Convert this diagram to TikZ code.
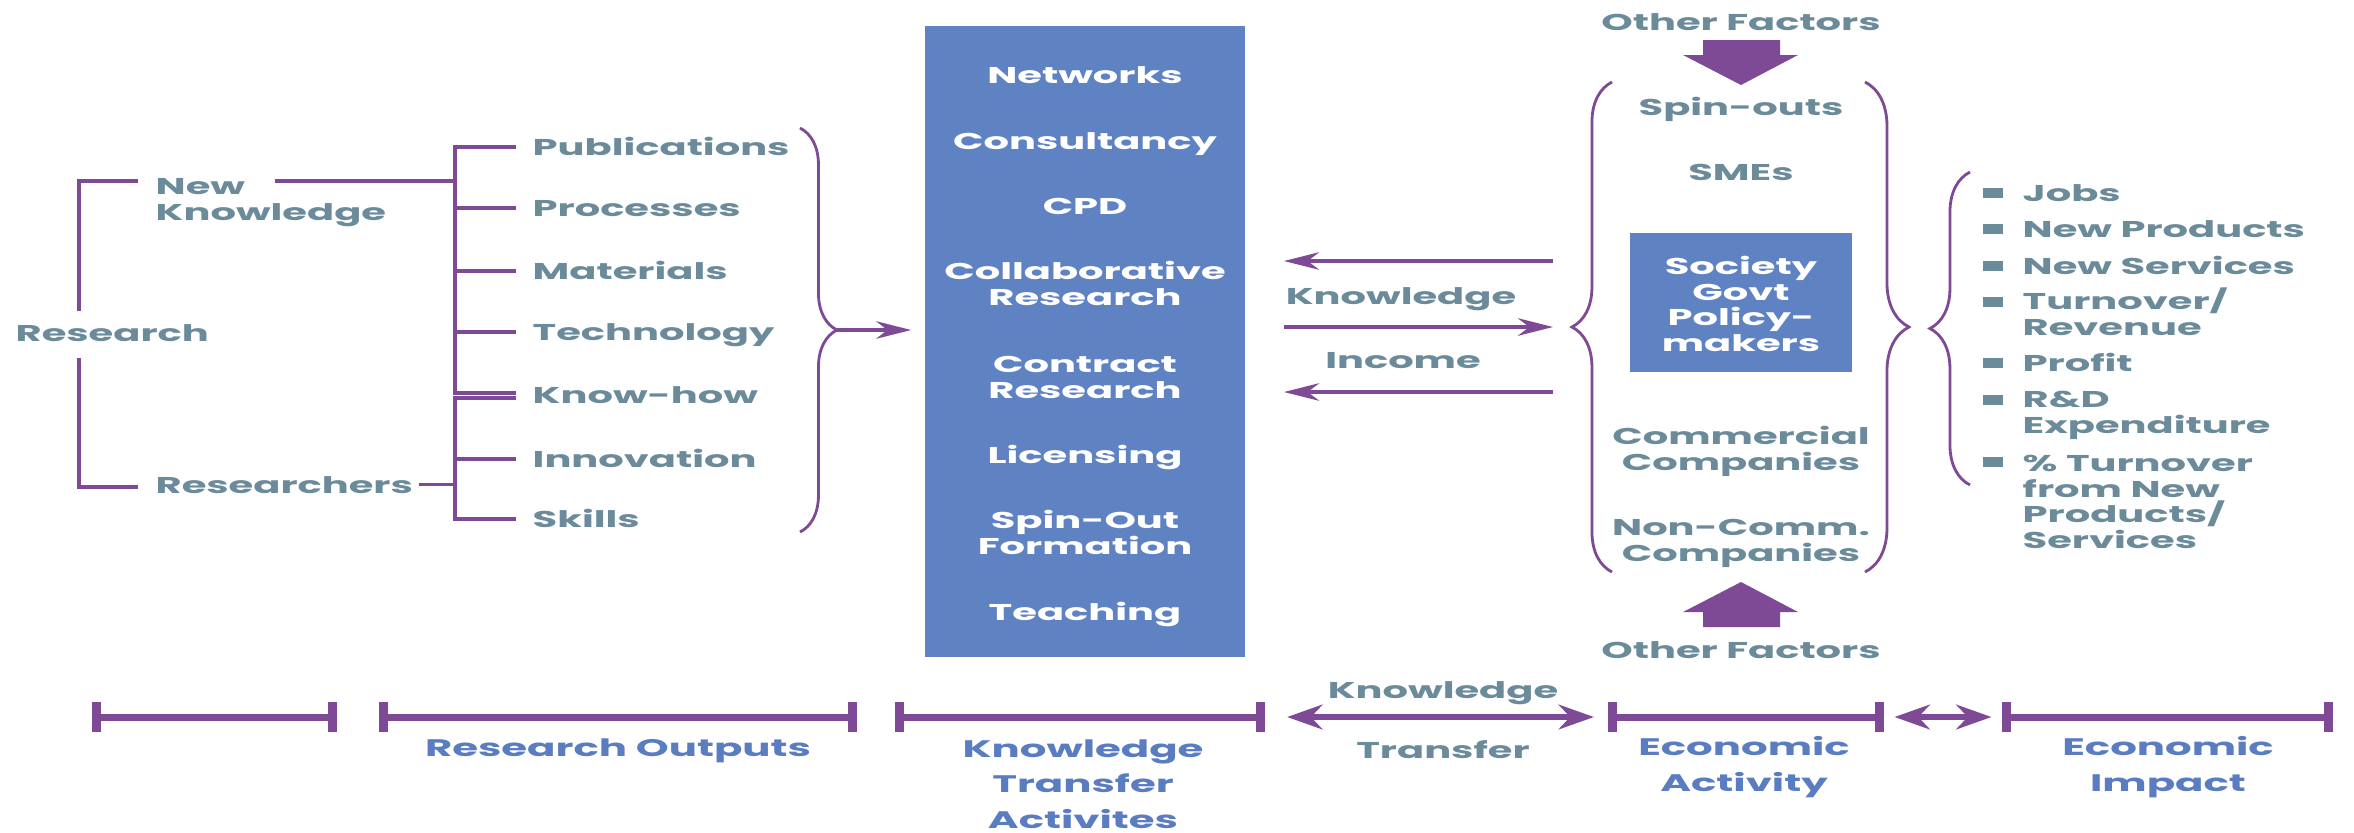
\documentclass[tikz,border=0pt]{standalone}
\usepackage{fontspec}
\setmainfont{Poppins}[FakeStretch=1.75]
\usetikzlibrary{arrows.meta,decorations.pathreplacing}
\definecolor{kpurple}{RGB}{126,74,149}
\definecolor{kgray}{RGB}{107,139,155}
\definecolor{kblue}{RGB}{95,130,195}
\definecolor{lblue}{RGB}{90,124,192}

\begin{document}
\begin{tikzpicture}
	[x=0.01cm,y=-0.01cm,
	every node/.style={inner sep=0pt,text=kgray,font=\bfseries\fontsize{6.5}{7.25}\selectfont},
	tree/.style={draw=kpurple,line width=1.3pt},
	twig/.style={draw=kpurple,line width=1pt},
	flow/.style={draw=kpurple,line width=0.9pt,-{Stealth[length=10pt,width=5pt]}},
	brc/.style={draw=kpurple,line width=0.8pt,decorate,decoration={brace,amplitude=#1}},
	kbox/.style={fill=kblue,minimum width=3.2cm,minimum height=6.31cm},
	wt/.style={text=white,align=center,anchor=base},
	seg/.style={draw=kpurple,line width=2pt,{Bar[width=8.5pt,line width=2.6pt]}-{Bar[width=8.5pt,line width=2.6pt]}},
	tl/.style={draw=kpurple,line width=1.8pt,{Stealth[length=10pt,width=7pt]}-{Stealth[length=10pt,width=7pt]}},
	stage/.style={text=lblue,align=center,anchor=base,font=\bfseries\fontsize{6.8}{10}\selectfont}]

	\useasboundingbox (0,0) rectangle (2354,832);

	\node[anchor=base west] (rs) at (15,341) {Research};
	\node[anchor=base west,align=left] (nk) at (155,220) {New\\Knowledge};
	\node[anchor=base west] (rr) at (155,493) {Researchers};
	\coordinate (lt) at (79,181);
	\coordinate (lb) at (79,487);
	\coordinate (nkr) at (275,181);
	\draw[tree] ([yshift=3.5pt]rs.north -| lt) -- (lt) -- ([xshift=-4.8pt]nk.west |- lt);
	\draw[tree] ([yshift=-4.5pt]rs.south -| lb) -- (lb) -- ([xshift=-4.8pt]rr.west |- lb);

	\foreach \t/\y [count=\i] in {Publications/147,Processes/208,Materials/271,Technology/332,Know-how/395,Innovation/459,Skills/519} {
		\coordinate (b\i) at (455,\y);
		\node[anchor=base west] (o\i) at (532,\y+8) {\t};
	}
	\coordinate (bu) at (455,393);
	\coordinate (bl) at (455,398);
	\draw[tree] ([xshift=-4.5pt]o1.west |- b1) -- (b1) -- (bu) -- ([xshift=-4.5pt]o5.west |- bu);
	\draw[tree] ([xshift=-4.5pt]o5.west |- bl) -- (bl) -- (b7) -- ([xshift=-4.5pt]o7.west |- b7);
	\foreach \i in {2,3,4,6}
		\draw[twig] (b\i) -- ([xshift=-4.5pt]o\i.west |- b\i);
	\draw[tree] (nkr) -- (nkr -| b1);
	\draw[twig] ([xshift=1.5pt]rr.east) -- (rr.east -| b1);

	\draw[brc=10.5pt] (800,128) -- (800,532);
	\coordinate (otip) at (837,330);
	\node[kbox] (kta) at (1085,341.5) {};
	\draw[flow,shorten >=3.7pt] (otip) -- (kta.west |- otip);
	\foreach \t/\y [count=\i] in {Networks/83,Consultancy/149,CPD/214,Collaborative\\Research/305,Contract\\Research/398,Licensing/463,Spin-Out\\Formation/554,Teaching/620}
		\node[wt] (a\i) at (1085,\y) {\t};

	\foreach \n/\y in {kt/261,km/327,kb/392} {
		\coordinate (\n1) at (1284,\y);
		\coordinate (\n2) at (1553,\y);
	}
	\draw[flow] (kt2) -- (kt1);
	\draw[flow] (km1) -- (km2);
	\draw[flow] (kb2) -- (kb1);
	\node[anchor=base] (kn) at (1401,304) {Knowledge};
	\node[anchor=base] (inc) at (1403,368) {Income};

	\node[anchor=base] (of1) at (1741,30) {Other Factors};
	\fill[kpurple] (1703,40) -- (1780,40) -- (1780,55) -- (1798,55) -- (1741,85) -- (1683,55) -- (1703,55) -- cycle;
	\node[anchor=base] (e1) at (1741,115) {Spin-outs};
	\node[anchor=base] (e2) at (1741,180) {SMEs};
	\node[fill=kblue,minimum width=2.22cm,minimum height=1.39cm] (soc) at (1741,302.5) {};
	\node[wt] (e3) at (1741,351) {Society\\Govt\\Policy-\\makers};
	\node[anchor=base,align=center] (e4) at (1741,470) {Commercial\\Companies};
	\node[anchor=base,align=center] (e5) at (1741,561) {Non-Comm.\\Companies};
	\fill[kpurple] (1703,627) -- (1780,627) -- (1780,612) -- (1798,612) -- (1741,582) -- (1683,612) -- (1703,612) -- cycle;
	\node[anchor=base] (of2) at (1741,658) {Other Factors};
	\draw[brc=11.4pt] (1612,572) -- (1612,82);
	\draw[brc=12.5pt] (1865,82) -- (1865,572);

	\draw[brc=11.4pt] (1970,485) -- (1970,172);
	\foreach \t/\y/\b [count=\i] in {Jobs/193/201,New Products/229/237,New Services/266/274,{Turnover/\\Revenue}/302/335,Profit/363/371,{R\&D\\Expenditure}/400/433,{\% Turnover\\from New\\Products/\\Services}/462/548} {
		\node[fill=kgray,minimum width=0.2cm,minimum height=0.1cm] (m\i) at (1993,\y) {};
		\node[anchor=base west,align=left] (p\i) at (2022,\b) {\t};
	}

	\foreach \n/\x in {0/92,1/337,2/379,3/857,4/895,5/1265,6/1608,7/1884,8/2002,9/2333}
		\coordinate (t\n) at (\x,717);
	\draw[seg] (t0) -- (t1);
	\draw[seg] (t2) -- (t3);
	\draw[seg] (t4) -- (t5);
	\draw[seg] (t6) -- (t7);
	\draw[seg] (t8) -- (t9);
	\draw[tl,shorten <=6.3pt,shorten >=4pt] (t5) -- (t6);
	\draw[tl,shorten <=3pt,shorten >=3pt] (t7) -- (t8);
	\node[anchor=base] (bk) at (1443,698) {Knowledge};
	\node[anchor=base] (bt) at (1443,758) {Transfer};
	\node[stage] (s1) at (618,756) {Research Outputs};
	\node[stage] (s2) at (1083,828) {Knowledge\\Transfer\\Activites};
	\node[stage] (s3) at (1744,791) {Economic\\Activity};
	\node[stage] (s4) at (2168,791) {Economic\\Impact};
\end{tikzpicture}
\end{document}
